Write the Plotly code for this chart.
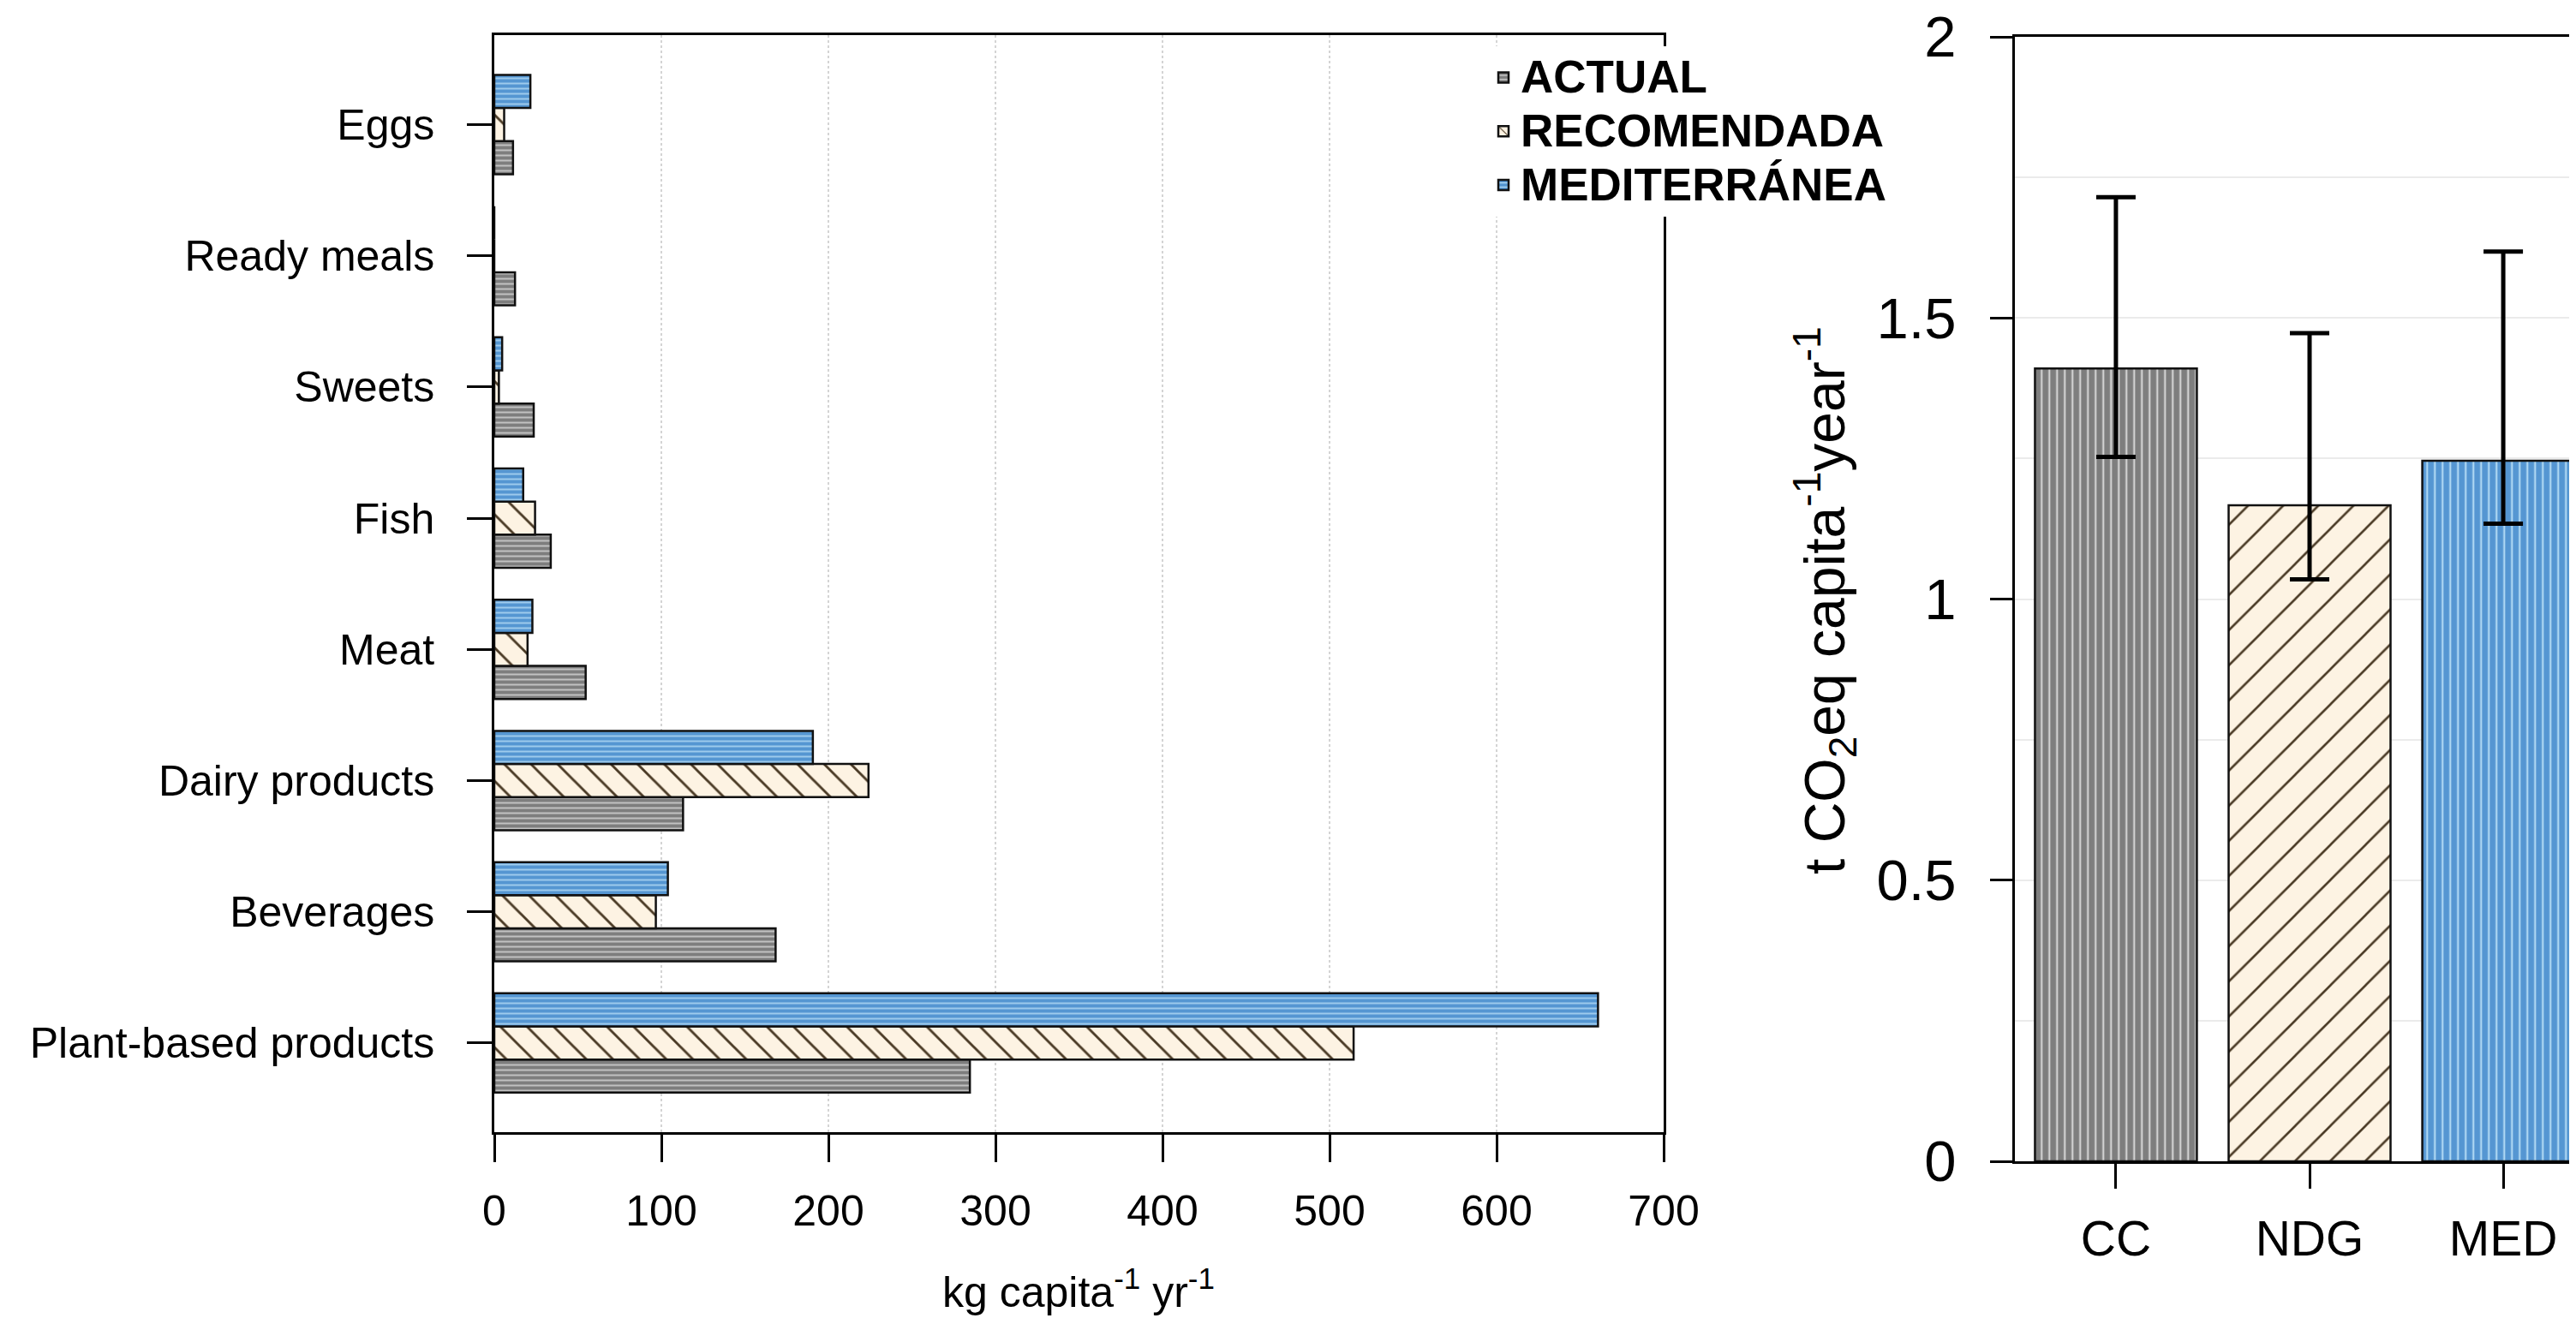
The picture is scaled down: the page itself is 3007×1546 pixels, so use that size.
import plotly.graph_objects as go

# ---------------- data ----------------
categories = ["Plant-based products", "Beverages", "Dairy products", "Meat",
              "Fish", "Sweets", "Ready meals", "Eggs"]
actual = [284.7, 168.4, 113.0, 54.7, 33.8, 23.6, 12.4, 11.2]
recomendada = [514.4, 96.7, 224.0, 19.9, 24.4, 2.75, 0, 5.9]
mediterranea = [660.7, 103.9, 190.7, 22.8, 17.3, 4.7, 0, 21.6]
series_names = ["ACTUAL", "RECOMENDADA", "MEDITERRÁNEA"]
x_tick_vals = [0, 100, 200, 300, 400, 500, 600, 700]

diets = ["CC", "NDG", "MED"]
co2 = [1.41, 1.167, 1.246]
co2_err_plus = [0.305, 0.306, 0.372]
co2_err_minus = [0.157, 0.132, 0.112]
y2_tick_vals = [0, 0.5, 1, 1.5, 2]
y2_tick_text = ["0", "0.5", "1", "1.5", "2"]

# ---------------- styles ----------------
FONT = "Liberation Sans, Arial, sans-serif"
W, H = 3007, 1546
GRAY, GRAY_S = "#7e7e7e", "#e4e4e4"
CREAM, HATCH = "#fdf3e3", "#4a3a25"
BLUE, BLUE_S = "#5596d2", "#c2e6fa"

left_styles = [
    dict(shape="-", bg=GRAY, fg=GRAY_S, size=6, sol=0.22),
    dict(shape="\\", bg=CREAM, fg=HATCH, size=22, sol=0.13),
    dict(shape="-", bg=BLUE, fg=BLUE_S, size=6, sol=0.22),
]
right_styles = [
    dict(shape="|", bg=GRAY, fg=GRAY_S, size=9, sol=0.2),
    dict(shape="/", bg=CREAM, fg=HATCH, size=29, sol=0.09),
    dict(shape="|", bg=BLUE, fg=BLUE_S, size=9, sol=0.2),
]

fig = go.Figure()
for name, vals, st in zip(series_names, [actual, recomendada, mediterranea], left_styles):
    fig.add_trace(go.Bar(
        y=categories, x=vals, orientation="h",
        name='<span style="font-size:53px">' + name + "</span>",
        marker=dict(color=st["bg"],
                    pattern=dict(shape=st["shape"], bgcolor=st["bg"], fgcolor=st["fg"],
                                 size=st["size"], solidity=st["sol"], fillmode="replace"),
                    line=dict(color="#111111", width=2.5)),
        xaxis="x", yaxis="y",
    ))

BAR_W = 0.836
for i, st in enumerate(right_styles):
    fig.add_trace(go.Bar(
        x=[diets[i]], y=[co2[i]], width=BAR_W, offset=-BAR_W / 2, showlegend=False,
        marker=dict(color=st["bg"],
                    pattern=dict(shape=st["shape"], bgcolor=st["bg"], fgcolor=st["fg"],
                                 size=st["size"], solidity=st["sol"], fillmode="replace"),
                    line=dict(color="#111111", width=2.5)),
        error_y=dict(type="data", array=[co2_err_plus[i]], arrayminus=[co2_err_minus[i]],
                     thickness=5, width=23, color="black"),
        xaxis="x2", yaxis="y2",
    ))

axis_common = dict(showline=True, linecolor="black", linewidth=2.5, ticks="outside",
                   tickcolor="black", tickwidth=2.5, zeroline=False,
                   ticklabeloverflow="allow", automargin=False)

fig.update_layout(
    width=W, height=H,
    margin=dict(l=0, r=0, t=0, b=0, autoexpand=False),
    paper_bgcolor="white", plot_bgcolor="white",
    font=dict(family=FONT, color="black"),
    barmode="group", bargap=0.243, bargroupgap=0,
    xaxis=dict(domain=[569 / W, 1934 / W], range=[0, 700], tickvals=x_tick_vals,
               ticklen=32, mirror=True, showgrid=True, gridcolor="#d4d4d4",
               griddash="dot", gridwidth=1.5, tickfont=dict(size=50),
               ticklabelstandoff=14, anchor="y", **axis_common),
    yaxis=dict(domain=[1 - 1314 / H, 1 - 32.5 / H], range=[-0.68, 7.685],
               type="category", categoryorder="array", categoryarray=categories,
               ticklen=29, mirror=True, showgrid=False, tickfont=dict(size=50),
               ticklabelstandoff=28, anchor="x", **axis_common),
    xaxis2=dict(domain=[2343.7 / W, 1.0], range=[-0.523, 2.411], type="category",
                ticklen=29, mirror=True, showgrid=False, tickfont=dict(size=57),
                ticklabelstandoff=10, anchor="y2", **axis_common),
    yaxis2=dict(domain=[1 - 1348 / H, 1 - 34.7 / H], range=[0, 2.0005],
                tickvals=y2_tick_vals, ticktext=y2_tick_text, ticklen=26,
                mirror=False, showgrid=True, gridcolor="#ebebeb", gridwidth=2,
                minor=dict(tickmode="linear", tick0=0, dtick=0.25, showgrid=True,
                           gridcolor="#ebebeb", gridwidth=2, ticks=""),
                tickfont=dict(size=67), ticklabelstandoff=26, anchor="x2", **axis_common),
    legend=dict(x=1727 / W, y=1 - 46 / H, xanchor="left", yanchor="top",
                bgcolor="white", borderwidth=0, traceorder="normal",
                font=dict(size=46, weight="bold", family=FONT, color="black")),
    annotations=[
        dict(text="kg capita<sup>-1</sup> yr<sup>-1</sup>", x=1251 / W, y=1 - 1497 / H,
             xref="paper", yref="paper", xanchor="center", yanchor="middle",
             showarrow=False, font=dict(size=50, family=FONT, color="black")),
        dict(text="t CO<sub>2</sub>eq capita<sup>-1</sup>year<sup>-1</sup>", x=2122 / W,
             y=1 - 693 / H, xref="paper", yref="paper", xanchor="center",
             yanchor="middle", textangle=-90, showarrow=False,
             font=dict(size=66, family=FONT, color="black")),
    ],
)

fig.write_html("out.html")
